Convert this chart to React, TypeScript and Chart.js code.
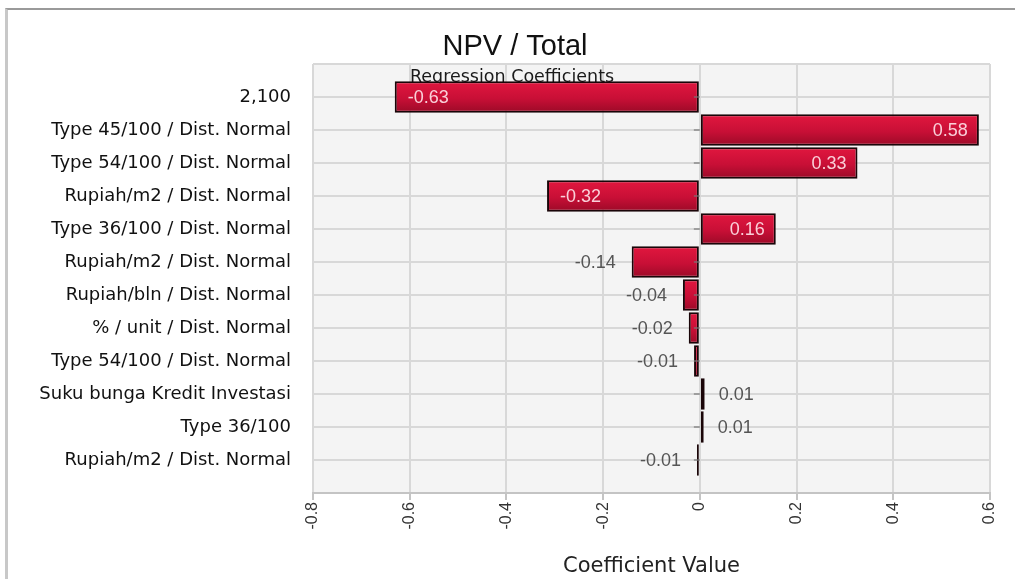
import React, { useEffect, useRef } from "react";
import { Chart, registerables } from "chart.js";

Chart.register(...registerables);

const categories: string[] = [
  "2,100",
  "Type 45/100 / Dist. Normal",
  "Type 54/100 / Dist. Normal",
  "Rupiah/m2 / Dist. Normal",
  "Type 36/100 / Dist. Normal",
  "Rupiah/m2 / Dist. Normal",
  "Rupiah/bln / Dist. Normal",
  "% / unit / Dist. Normal",
  "Type 54/100 / Dist. Normal",
  "Suku bunga Kredit Investasi",
  "Type 36/100",
  "Rupiah/m2 / Dist. Normal",
];

const coefficients: number[] = [
  -0.631, 0.577, 0.326, -0.316, 0.157, -0.141, -0.035, -0.023, -0.012, 0.01, 0.008, -0.006,
];

const xTicks: number[] = [-0.8, -0.6, -0.4, -0.2, 0, 0.2, 0.4, 0.6];

const chartTitle = "NPV / Total";
const chartSubtitle = "Regression Coefficients";
const xAxisTitle = "Coefficient Value";

// pad with empty slots so that the category rows sit between grid edges
const yLabels = ["", ...categories, ""];
const yData: (number | null)[] = [null, ...coefficients, null];

const LABEL_FONT = "DejaVu Sans";
const NUM_FONT = "Liberation Sans";

export default function App() {
  const canvasRef = useRef<HTMLCanvasElement | null>(null);

  useEffect(() => {
    const canvas = canvasRef.current;
    if (!canvas) return;

    const titlesPlugin = {
      id: "titlesBehind",
      beforeDatasetsDraw(chart: any) {
        const { ctx, chartArea } = chart;
        ctx.save();
        ctx.textAlign = "center";
        ctx.textBaseline = "middle";
        ctx.fillStyle = "#111111";
        ctx.font = `29px "${NUM_FONT}"`;
        ctx.fillText(chartTitle, 515, 47);
        ctx.font = `17.5px "${LABEL_FONT}"`;
        ctx.fillStyle = "#1a1a1a";
        ctx.textBaseline = "alphabetic";
        ctx.fillText(chartSubtitle, 512, chartArea.top + 18);
        ctx.restore();
      },
    };

    const labelPlugin = {
      id: "valueLabels",
      afterDatasetsDraw(chart: any) {
        const { ctx } = chart;
        const xs = chart.scales.x;
        const ys = chart.scales.y;
        const x0 = xs.getPixelForValue(0);
        ctx.save();
        ctx.strokeStyle = "rgba(120,120,120,0.8)";
        ctx.lineWidth = 1.5;
        for (let i = 1; i <= categories.length; i++) {
          const yc = ys.getPixelForValue(i);
          ctx.beginPath();
          ctx.moveTo(x0 - 6, yc);
          ctx.lineTo(x0, yc);
          ctx.stroke();
        }
        ctx.font = `18px "${NUM_FONT}"`;
        ctx.textBaseline = "middle";
        coefficients.forEach((v, k) => {
          const i = k + 1;
          const yc = ys.getPixelForValue(i) + 1;
          const xe = xs.getPixelForValue(v);
          const text = v.toFixed(2);
          const inside = Math.abs(v) >= 0.15;
          if (inside) {
            ctx.fillStyle = "rgba(255,228,234,0.9)";
            if (v < 0) {
              ctx.textAlign = "left";
              ctx.fillText(text, xe + 13, yc);
            } else {
              ctx.textAlign = "right";
              ctx.fillText(text, xe - 11, yc);
            }
          } else {
            ctx.fillStyle = "#555555";
            if (v < 0) {
              ctx.textAlign = "right";
              ctx.fillText(text, xe - 16, yc);
            } else {
              ctx.textAlign = "left";
              ctx.fillText(text, xe + 14, yc);
            }
          }
        });
        ctx.restore();
      },
    };

    const plotBg = {
      id: "plotBg",
      beforeDraw(chart: any) {
        const { ctx, chartArea } = chart;
        ctx.save();
        ctx.fillStyle = "#f4f4f4";
        ctx.fillRect(chartArea.left, chartArea.top, chartArea.right - chartArea.left, chartArea.bottom - chartArea.top);
        ctx.restore();
      },
    };

    const chart = new Chart(canvas, {
      type: "bar",
      data: {
        labels: yLabels,
        datasets: [
          {
            data: yData,
            backgroundColor: (c: any) => {
              const ch = c.chart;
              const ys = ch.scales && ch.scales.y;
              if (!ys || c.type !== "data") return "#c8102e";
              const yc = ys.getPixelForValue(c.dataIndex);
              if (!Number.isFinite(yc)) return "#c8102e";
              const g = ch.ctx.createLinearGradient(0, yc - 16, 0, yc + 16);
              g.addColorStop(0, "#e2173f");
              g.addColorStop(0.55, "#c80f36");
              g.addColorStop(1, "#9a0a27");
              return g;
            },
            borderColor: "#1a0508",
            borderWidth: 2,
            borderSkipped: false,
            barPercentage: 0.95,
            categoryPercentage: 1,
          } as any,
        ],
      },
      options: {
        indexAxis: "y",
        animation: false,
        responsive: false,
        maintainAspectRatio: false,
        layout: { padding: { left: 0, right: 25, top: 64, bottom: 0 } },
        plugins: {
          legend: { display: false },
          tooltip: { enabled: false },
          title: { display: false },
        },
        scales: {
          x: {
            type: "linear",
            min: -0.8,
            max: 0.6,
            afterBuildTicks: (scale: any) => {
              scale.ticks = xTicks.map((v) => ({ value: v }));
            },
            afterFit: (scale: any) => {
              scale.height = 86;
            },
            ticks: {
              minRotation: 90,
              maxRotation: 90,
              padding: 2,
              color: "#333333",
              font: { family: NUM_FONT, size: 16 },
              callback: (v: any) => String(Number(Number(v).toFixed(1))),
            },
            grid: {
              color: "#d8d8d8",
              lineWidth: 2,
              tickLength: 7,
              tickColor: "#c4c4c4",
            },
            border: { color: "#c4c4c4", width: 2 },
            title: {
              display: true,
              text: xAxisTitle,
              color: "#222222",
              font: { family: LABEL_FONT, size: 21 },
              padding: { top: 0, bottom: 0 },
            },
          },
          y: {
            type: "category",
            offset: false,
            afterFit: (scale: any) => {
              scale.width = 313;
            },
            ticks: {
              padding: 22,
              color: "#111111",
              font: { family: LABEL_FONT, size: 18 },
              autoSkip: false,
            },
            grid: {
              color: "#d8d8d8",
              lineWidth: 2,
              drawTicks: false,
              offset: false,
            },
            border: { display: false },
          },
        },
      },
      plugins: [plotBg, titlesPlugin, labelPlugin],
    } as any);

    return () => chart.destroy();
  }, []);

  return (
    <div style={{ position: "absolute", left: 0, top: 0, width: 1015, height: 579, background: "#ffffff", overflow: "hidden" }}>
      <div
        style={{
          position: "absolute",
          left: 5,
          top: 8,
          right: -4,
          bottom: -4,
          borderTop: "2px solid #9a9a9a",
          borderLeft: "3px solid #c8c8c8",
        }}
      />
      <canvas ref={canvasRef} width={1015} height={579} style={{ position: "absolute", left: 0, top: 0, width: 1015, height: 579 }} />
    </div>
  );
}
